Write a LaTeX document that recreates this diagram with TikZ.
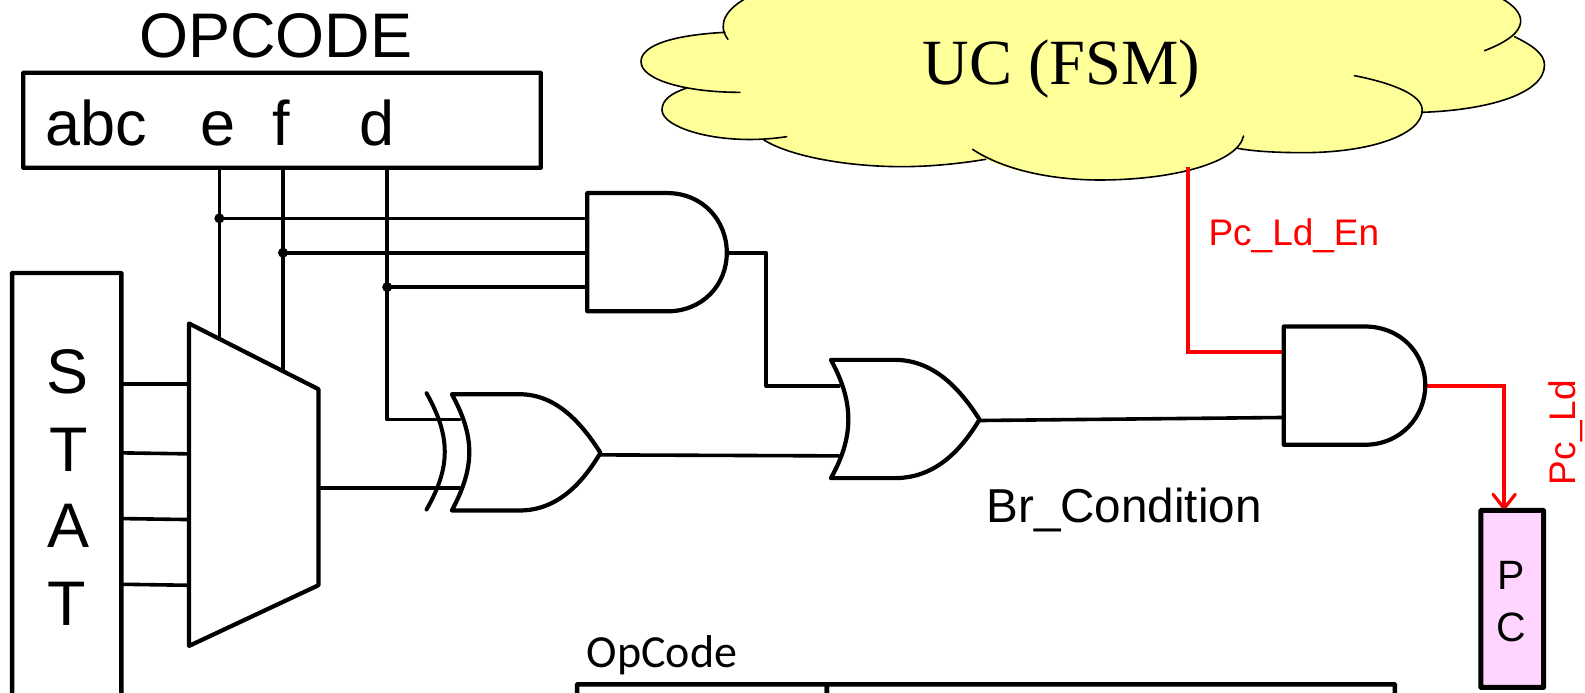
\documentclass[tikz,border=0pt]{standalone}
\usepackage{fontspec}
\setmainfont{Liberation Sans}
\newfontfamily\timesf{Liberation Serif}
\newfontfamily\calib{Carlito}
\definecolor{cloudy}{HTML}{FFFF99}
\definecolor{pcpink}{HTML}{FFD5FF}
\tikzset{
  wire/.style={line width=3.6pt,line join=round,line cap=round},
  gate/.style={line width=4.2pt,line join=round,line cap=round,fill=white},
  redwire/.style={line width=3.8pt,red,line join=miter},
  boxed/.style={draw,line width=4.4pt,inner sep=0pt,outer sep=0pt,rounded corners=.5pt},
  lbl/.style={inner sep=0pt,outer sep=0pt},
  dot/.style={circle,fill=black,inner sep=0pt,minimum size=10pt},
  cloudline/.style={line width=1.6pt,line cap=round}
}
\newcommand{\bigf}{\fontsize{63}{63}\selectfont}
\begin{document}
\begin{tikzpicture}[x=1.0108pt,y=-1.0108pt]
\useasboundingbox (0,0) rectangle (1568,684.6);
\clip (0,0) rectangle (1568,684.6);
% cloud
\begin{scope}[xshift=620pt,x=.5995pt,y=-.3333pt]
\fill[cloudy] (210,-5) .. controls (180,25) and (165,60) .. (175,97)
  .. controls (90,105) and (35,135) .. (35,185)
  .. controls (35,225) and (70,250) .. (110,265)
  .. controls (85,280) and (70,300) .. (70,330)
  .. controls (70,380) and (150,425) .. (240,420)
  .. controls (285,470) and (380,500) .. (470,500)
  .. controls (520,500) and (570,490) .. (610,478)
  .. controls (660,520) and (730,540) .. (800,540)
  .. controls (900,540) and (985,510) .. (1030,445)
  .. controls (1060,455) and (1100,458) .. (1140,458)
  .. controls (1250,458) and (1335,410) .. (1338,337)
  .. controls (1450,330) and (1542,280) .. (1542,195)
  .. controls (1542,160) and (1520,135) .. (1492,110)
  .. controls (1510,90) and (1510,40) .. (1470,-5) -- cycle;
\draw[cloudline] (210,-5) .. controls (180,25) and (160,70) .. (180,118);
\draw[cloudline] (1470,-5) .. controls (1510,35) and (1525,95) .. (1442,152);
\draw[cloudline] (175,97) .. controls (90,105) and (35,135) .. (35,185)
  .. controls (35,240) and (110,277) .. (200,277);
\draw[cloudline] (110,265) .. controls (85,280) and (70,300) .. (70,330)
  .. controls (70,385) and (170,440) .. (278,410);
\draw[cloudline] (240,420) .. controls (285,470) and (380,500) .. (470,500)
  .. controls (520,500) and (570,490) .. (610,478);
\draw[cloudline] (588,448) .. controls (640,510) and (720,540) .. (800,540)
  .. controls (920,540) and (1030,490) .. (1040,408);
\draw[cloudline] (1030,445) .. controls (1060,455) and (1100,458) .. (1140,458)
  .. controls (1250,458) and (1338,405) .. (1338,330)
  .. controls (1338,285) and (1290,250) .. (1225,227);
\draw[cloudline] (1338,337) .. controls (1450,330) and (1542,280) .. (1542,195)
  .. controls (1542,160) and (1520,135) .. (1492,110);
\end{scope}
\node[lbl,font=\timesf\fontsize{64.5}{64}\selectfont] (uc) at (1050,68) {UC (FSM)};
% boxes and labels
\node[boxed,minimum width=517.5pt,minimum height=95pt] (opbox) at (279,119) {};
\node[lbl,font=\bigf] (optitle) at (273,35) {OPCODE};
\node[lbl,font=\bigf,anchor=base] (abc) at (95,144) {abc};
\node[lbl,font=\bigf,anchor=base] (e) at (216,144) {e};
\node[lbl,font=\bigf,anchor=base] (f) at (278,144) {f};
\node[lbl,font=\bigf,anchor=base] (d) at (373,144) {d};
\node[boxed,minimum width=109.2pt,minimum height=434.6pt] (stat) at (66,485) {};
\node[lbl,font=\bigf] (s1) at (67,368) {S};
\node[lbl,font=\bigf] (s2) at (68,445) {T};
\node[lbl,font=\bigf] (s3) at (68,520) {A};
\node[lbl,font=\bigf] (s4) at (66,597) {T};
% port coordinates
\coordinate (eT) at (217,166); \coordinate (eB) at (217,335);
\coordinate (fT) at (280,166); \coordinate (fB) at (280,367);
\coordinate (dT) at (383,166); \coordinate (dB) at (383,415);
\coordinate (xorA) at (455,415); \coordinate (xorB) at (455,483);
\coordinate (muxO) at (315,483);
\coordinate (xorO) at (594,450);
\coordinate (and1A) at (581,216); \coordinate (and1B) at (581,250); \coordinate (and1C) at (581,284);
\coordinate (and1O) at (719,250);
\coordinate (orA) at (830,382); \coordinate (orB) at (830,451); \coordinate (orO) at (969,416);
\coordinate (and2A) at (1270,348); \coordinate (and2B) at (1270,413); \coordinate (and2O) at (1410,382);
\coordinate (enT) at (1175,165);
\node[dot] (j1) at (217,216) {};
\node[dot] (j2) at (280,250) {};
\node[dot] (j3) at (383,284) {};
% wires
\draw[wire] (eT) -- (eB);
\draw[wire] (fT) -- (fB);
\draw[wire] (dT) -- (dB) -- (xorA);
\draw[wire] (j1.center) -- (and1A);
\draw[wire] (j2.center) -- (and1B);
\draw[wire] (j3.center) -- (and1C);
\draw[wire] (120,380) -- (187,380);
\draw[wire] (120,448) -- (187,449);
\draw[wire] (120,513) -- (187,514);
\draw[wire] (120,578) -- (187,579);
\draw[wire] (muxO) -- (xorB);
\draw[wire] (xorO) -- (orB);
\draw[wire] (and1O) -- (758,250) -- (758,382) -- (orA);
\draw[wire] (orO) -- (and2B);
% mux
\draw[gate] (187,320) -- (315,385) -- (315,579) -- (187,639) -- cycle;
% XOR
\draw[wire,line width=4pt] (422,389) .. controls (446,432) and (446,462) .. (422,504);
\draw[gate,fill=none] (447,390) .. controls (470,432) and (470,462) .. (447,505)
  -- (514,505) .. controls (550,505) and (575,480) .. (594,448)
  .. controls (575,418) and (550,390) .. (514,390) -- cycle;
% AND1
\draw[gate] (581,191) -- (660,191) .. controls (695,191) and (719,218) .. (719,250)
  .. controls (719,282) and (695,308) .. (660,308) -- (581,308) -- cycle;
% OR
\draw[gate] (822,356) .. controls (845,398) and (845,432) .. (822,473)
  -- (885,473) .. controls (922,473) and (948,450) .. (969,415)
  .. controls (948,382) and (922,356) .. (885,356) -- cycle;
% red wires
\draw[redwire] (enT) -- (1175,348) -- (and2A);
\draw[redwire] (and2O) -- (1488,382) -- (1488,503);
\draw[red,line width=3.2pt,line cap=round] (1477,489) -- (1488,503) -- (1499,489);
% AND2
\draw[gate] (1270,323) -- (1350,323) .. controls (1386,323) and (1410,350) .. (1410,381)
  .. controls (1410,412) and (1386,440) .. (1350,440) -- (1270,440) -- cycle;
% red labels
\node[lbl,red,font=\fontsize{37}{37}\selectfont] (en) at (1280,233) {Pc\_Ld\_En};
\node[lbl,red,font=\fontsize{37}{37}\selectfont,rotate=90] (ld) at (1549,428) {Pc\_Ld};
\node[lbl,font=\fontsize{47.6}{48}\selectfont] (br) at (1112,505) {Br\_Condition};
% PC
\node[boxed,fill=pcpink,line width=5pt,minimum width=62.7pt,minimum height=176.9pt] (pc) at (1496,592.5) {};
\node[lbl,font=\fontsize{41}{41}\selectfont] (p1) at (1495,569) {P};
\node[lbl,font=\fontsize{41}{41}\selectfont] (p2) at (1495,621) {C};
% table
\node[lbl,font=\calib\fontsize{46}{46}\selectfont] (opc) at (655,648) {OpCode};
\node[boxed,minimum width=249.7pt,minimum height=53.6pt] (tl) at (694.5,703.5) {};
\node[boxed,minimum width=568pt,minimum height=53.6pt] (tr) at (1099,703.5) {};
\end{tikzpicture}
\end{document}
